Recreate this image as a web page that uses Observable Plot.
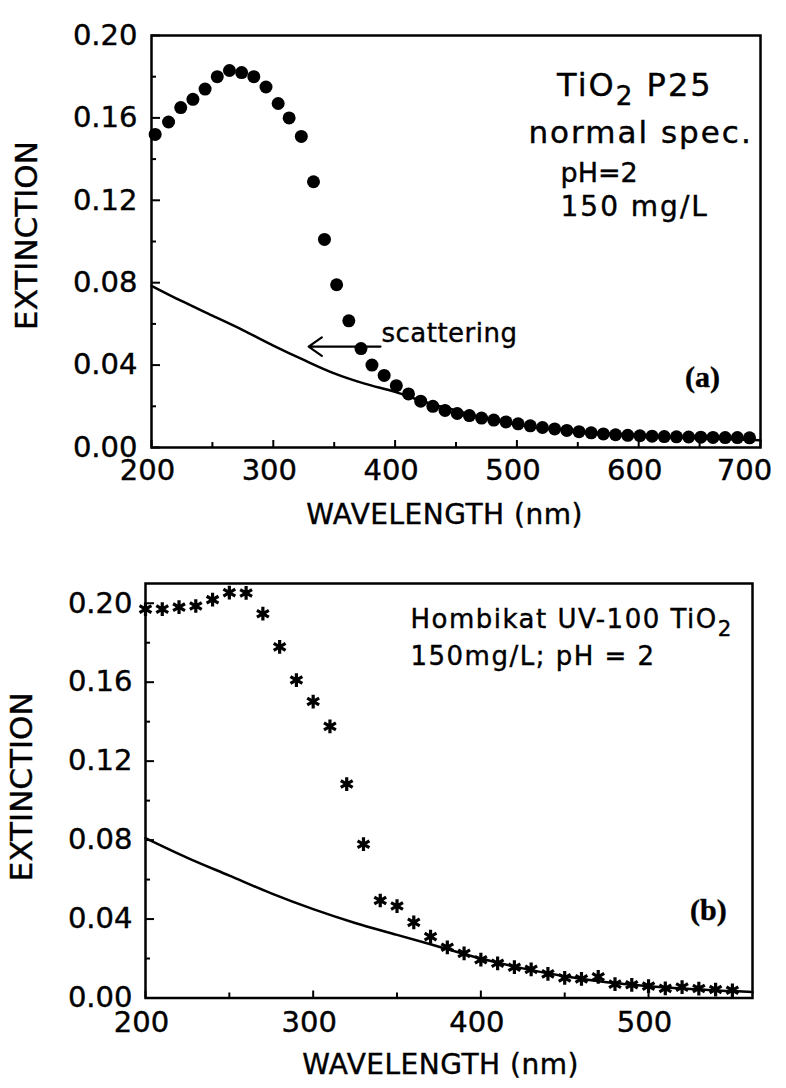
<!DOCTYPE html>
<html><head><meta charset="utf-8">
<script src="https://cdn.jsdelivr.net/npm/d3@7"></script>
<script src="https://cdn.jsdelivr.net/npm/@observablehq/plot@0.6"></script>
<style>
body{margin:0;background:#fff;}
#wrap{position:relative;width:786px;height:1088px;background:#fff;}
#wrap svg{position:absolute;left:0;}
#wrap text{stroke:black;stroke-width:0.4px;}
</style></head><body><div id="wrap"></div>
<script>
// ---------- data ----------
const xLabel = "WAVELENGTH (nm)";
const yLabel = "EXTINCTION";
const yMajor = [0, 0.04, 0.08, 0.12, 0.16, 0.20];
const yMinor = [0.02, 0.06, 0.10, 0.14, 0.18];
const xMajorA = [200, 300, 400, 500, 600, 700];
const xMinorA = [250, 350, 450, 550, 650];
const xMajorB = [200, 300, 400, 500];
const xMinorB = [250, 350, 450, 550];

// panel (a): TiO2 P25 measured extinction (dots)
const dotWlA = [203,214,224,234,244,254,264,274,284,294,304,313,323,333,342,352,362,372,381,391,
  401,411,421,431,441,451,461,471,481,491,501,511,521,531,541,551,561,571,581,591,
  601,611,621,631,641,651,661,671,681,691];
const dotExtA = [0.152,0.158,0.165,0.169,0.174,0.180,0.183,0.182,0.180,0.175,0.167,0.160,0.151,0.129,0.101,0.079,0.0615,0.048,0.040,0.035,
  0.030,0.026,0.0225,0.020,0.018,0.0165,0.0155,0.0143,0.0133,0.0124,0.0115,0.0105,0.0097,0.009,0.0083,0.0077,0.0071,0.0066,0.0062,0.0059,
  0.0057,0.0055,0.0053,0.0052,0.0051,0.005,0.0049,0.0048,0.0048,0.0047];
// panel (a): scattering curve
const lineWlA = [200,225,250,275,300,325,350,375,400,425,450,475,500,550,600,650,700];
const lineExtA = [0.0785,0.071,0.064,0.057,0.0495,0.0425,0.036,0.031,0.027,0.022,0.018,0.014,0.011,0.008,0.006,0.0045,0.0035];

// panel (b): Hombikat UV-100 measured extinction (stars)
const starWlB = [200,210,220,230,240,250,260,270,280,290,300,310,320,330,340,350,360,370,380,390,
  400,410,420,430,440,450,460,470,480,490,500,510,520,530,540,550];
const starExtB = [0.197,0.197,0.198,0.1986,0.2018,0.2054,0.2052,0.1947,0.1779,0.1611,0.1502,0.1376,0.1084,0.0779,0.0494,0.0466,0.0383,0.0311,0.0257,0.0226,
  0.0194,0.0176,0.0156,0.0145,0.0122,0.0102,0.0097,0.0107,0.007,0.0067,0.006,0.0049,0.0055,0.0048,0.0043,0.0039];
// panel (b): scattering curve
const lineWlB = [200,225,250,275,300,325,350,375,400,425,450,475,500,525,550,562];
const lineExtB = [0.081,0.071,0.062,0.053,0.045,0.038,0.032,0.026,0.020,0.015,0.011,0.008,0.006,0.0045,0.0035,0.003];

const annotA = ["TiO₂ P25", "normal spec.", "pH=2", "150 mg/L"];
const panelTagA = "(a)";
const scatterText = "scattering";
const annotB = ["Hombikat UV-100 TiO₂", "150mg/L; pH = 2"];
const panelTagB = "(b)";

// ---------- build ----------
const FONT = "'DejaVu Sans', sans-serif";
const SERIF = "'Liberation Serif', 'DejaVu Serif', serif";
const zip = (a, b) => a.map((w, i) => ({w, e: b[i]}));
const fmtY = d3.format(".2f");
const fmtX = d => String(d);

function frameMarks(fw, fh, xMajor, xMinor) {
  return [
    Plot.frame({stroke: "black", strokeWidth: 2.5}),
    Plot.tickY(yMajor, {y: d => d, insetRight: fw - 9, strokeWidth: 2}),
    Plot.tickY(yMinor, {y: d => d, insetRight: fw - 5, strokeWidth: 2}),
    Plot.tickX(xMajor, {x: d => d, insetTop: fh - 7, strokeWidth: 2}),
    Plot.tickX(xMinor, {x: d => d, insetTop: fh - 5, strokeWidth: 2}),
  ];
}

// panel A
const A = {W: 786, H: 540, ml: 151, mr: 26, mt: 35, mb: 93};
const fwA = A.W - A.ml - A.mr, fhA = A.H - A.mt - A.mb;
const plotA = Plot.plot({
  width: A.W, height: A.H,
  marginLeft: A.ml, marginRight: A.mr, marginTop: A.mt, marginBottom: A.mb,
  x: {domain: [200, 700]},
  y: {domain: [0, 0.2]},
  style: {fontFamily: FONT, background: "white", color: "black", overflow: "visible"},
  marks: [
    ...frameMarks(fwA, fhA, xMajorA, xMinorA),
    Plot.axisY({ticks: yMajor, tickSize: 0, tickPadding: 14, fontSize: 29, tickFormat: fmtY, label: null}),
    Plot.axisX({ticks: xMajorA.slice(0, -1), tickSize: 0, tickPadding: 12, fontSize: 29, tickFormat: fmtX, label: null, dx: -4}),
    Plot.axisX({ticks: xMajorA.slice(-1), tickSize: 0, tickPadding: 12, fontSize: 29, tickFormat: fmtX, label: null, dx: -16}),
    Plot.line(zip(lineWlA, lineExtA), {x: "w", y: "e", curve: "monotone-x", stroke: "black", strokeWidth: 2.5}),
    Plot.dot(zip(dotWlA, dotExtA), {x: "w", y: "e", r: 6.5, fill: "black", stroke: null}),
    Plot.arrow([scatterText], {x1: 388, x2: 329, y1: 0.049, y2: 0.049, stroke: "black", strokeWidth: 2.2, headLength: 11, headAngle: 70}),
    Plot.text([scatterText], {x: 388.8, y: 0.0553, text: d => d, textAnchor: "start", fontSize: 26}),
    Plot.text([annotA[0]], {x: 533, y: 0.1757, text: d => d, textAnchor: "start", fontSize: 32}),
    Plot.text([annotA[1]], {x: 509.5, y: 0.1524, text: d => d, textAnchor: "start", fontSize: 31}),
    Plot.text([annotA[2]], {x: 535.8, y: 0.133, text: d => d, textAnchor: "start", fontSize: 27}),
    Plot.text([annotA[3]], {x: 535.8, y: 0.1165, text: d => d, textAnchor: "start", fontSize: 28}),
    Plot.text([panelTagA], {x: 652.4, y: 0.034, text: d => d, fontSize: 30, fontWeight: "bold", fontFamily: SERIF}),
    Plot.text([yLabel], {frameAnchor: "left", text: d => d, rotate: -90, textAnchor: "middle", lineAnchor: "middle", dx: -124, dy: -6, fontSize: 31}),
    Plot.text([xLabel], {frameAnchor: "bottom", text: d => d, textAnchor: "middle", lineAnchor: "middle", dx: -11.5, dy: 68, fontSize: 28}),
  ]
});

// panel B
const B = {W: 786, H: 548, ml: 145, mr: 34, mt: 43, mb: 90.5};
const fwB = B.W - B.ml - B.mr, fhB = B.H - B.mt - B.mb;
const plotB = Plot.plot({
  width: B.W, height: B.H,
  marginLeft: B.ml, marginRight: B.mr, marginTop: B.mt, marginBottom: B.mb,
  x: {domain: [200, 562]},
  y: {domain: [0, 0.21]},
  style: {fontFamily: FONT, background: "white", color: "black", overflow: "visible"},
  marks: [
    ...frameMarks(fwB, fhB, xMajorB, xMinorB),
    Plot.axisY({ticks: yMajor, tickSize: 0, tickPadding: 13, fontSize: 29, tickFormat: fmtY, label: null}),
    Plot.axisX({ticks: xMajorB, tickSize: 0, tickPadding: 13, fontSize: 29, tickFormat: fmtX, label: null, dx: -4}),
    Plot.line(zip(lineWlB, lineExtB), {x: "w", y: "e", curve: "monotone-x", stroke: "black", strokeWidth: 2.5}),
    Plot.dot(zip(starWlB, starExtB), {x: "w", y: "e", symbol: "asterisk", r: 6.5, stroke: "black", strokeWidth: 3.2}),
    Plot.text([annotB[0]], {x: 358, y: 0.1915, text: d => d, textAnchor: "start", fontSize: 26}),
    Plot.text([annotB[1]], {x: 358, y: 0.1728, text: d => d, textAnchor: "start", fontSize: 26}),
    Plot.text([panelTagB], {x: 535.7, y: 0.0444, text: d => d, fontSize: 30, fontWeight: "bold", fontFamily: SERIF}),
    Plot.text([yLabel], {frameAnchor: "left", text: d => d, rotate: -90, textAnchor: "middle", lineAnchor: "middle", dx: -123, dy: -4, fontSize: 31}),
    Plot.text([xLabel], {frameAnchor: "bottom", text: d => d, textAnchor: "middle", lineAnchor: "middle", dx: -8.5, dy: 67.5, fontSize: 28}),
  ]
});

const wrap = document.getElementById("wrap");
plotA.style.top = "0px";
plotB.style.top = A.H + "px";
wrap.appendChild(plotA);
wrap.appendChild(plotB);

// letter spacing for the plotter-like annotation lettering, and TiO2 subscripts
const spacing = {"TiO₂ P25": 2, "normal spec.": 2, "150 mg/L": 2, "scattering": 0.5,
  "Hombikat UV-100 TiO₂": 1.5, "150mg/L; pH = 2": 1.5, "WAVELENGTH (nm)": 0.5};
const NS = "http://www.w3.org/2000/svg";
for (const svg of [plotA, plotB]) {
  svg.querySelectorAll("text").forEach(t => {
    const s = t.textContent;
    if (spacing[s] != null) t.setAttribute("letter-spacing", spacing[s]);
    if (t.children.length === 0 && s.includes("₂")) {
      const fs = parseFloat(getComputedStyle(t).fontSize) || 26;
      const parts = s.split("₂");
      t.textContent = "";
      parts.forEach((p, i) => {
        if (i > 0) {
          const sub = document.createElementNS(NS, "tspan");
          sub.setAttribute("dy", (0.28 * fs).toFixed(1));
          sub.setAttribute("font-size", (0.82 * fs).toFixed(1));
          sub.textContent = "2";
          t.appendChild(sub);
        }
        if (p.length) {
          const sp = document.createElementNS(NS, "tspan");
          if (i > 0) sp.setAttribute("dy", (-0.28 * fs).toFixed(1));
          sp.textContent = p;
          t.appendChild(sp);
        }
      });
    }
  });
}
</script>
</body></html>
